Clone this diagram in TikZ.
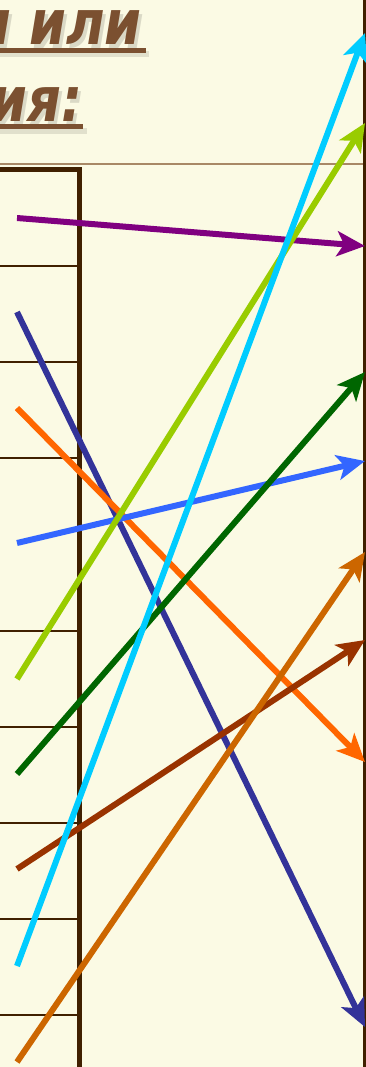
\documentclass[tikz,border=0pt]{standalone}
\usepackage{fontspec}
\setmainfont{DejaVu Sans}
\usetikzlibrary{arrows.meta}
\definecolor{bg}{HTML}{FBFAE4}
\definecolor{ttl}{HTML}{7B5030}
\definecolor{frm}{HTML}{402000}
\definecolor{thin}{HTML}{A88866}
\definecolor{cpurple}{HTML}{800080}
\definecolor{cnavy}{HTML}{333399}
\definecolor{corange}{HTML}{FF6600}
\definecolor{cblue}{HTML}{3366FF}
\definecolor{cyg}{HTML}{99CC00}
\definecolor{cdg}{HTML}{006600}
\definecolor{cbrown}{HTML}{993300}
\definecolor{ccyan}{HTML}{00CCFF}
\definecolor{cob}{HTML}{CC6600}
\newcommand{\ttlfmt}[1]{\scalebox{0.85}[1]{#1}}
\tikzset{
  ttltext/.style={inner sep=0pt, font=\fontsize{62}{72}\selectfont\bfseries\itshape},
  ttlshadow/.style={ttltext, text=black, opacity=0.13},
  ul/.style={line width=5pt, draw=ttl},
  ulshadow/.style={line width=6pt, draw=black, opacity=0.10},
  frame/.style={line width=5pt, draw=frm},
  rowline/.style={line width=2.5pt, draw=frm},
  rline/.style={line width=3pt, draw=frm},
  thinline/.style={line width=2pt, draw=thin},
  conn/.style={line width=6pt, -{Stealth[length=28pt,width=25pt,inset=7pt]}},
}
\begin{document}
\begin{tikzpicture}[x=1pt,y=-1pt]
\useasboundingbox (0,0) rectangle (366,1067);
\fill[bg] (0,0) rectangle (366,1067);
% title shadows
\node[ttlshadow, anchor=base east] (t1s) at (145,49) {\ttlfmt{ы или}};
\node[ttlshadow, anchor=base east] (t2s) at (86,126) {\ttlfmt{ния:}};
\draw[ulshadow] (0,54) -- (149,54);
\draw[ulshadow] (0,131) -- (87,131);
% title
\node[ttltext, text=ttl, anchor=base east] (t1) at (142,45) {\ttlfmt{ы или}};
\node[ttltext, text=ttl, anchor=base east] (t2) at (83,122) {\ttlfmt{ния:}};
\draw[ul] (0,50.5) -- (146,50.5);
\draw[ul] (0,127) -- (83,127);
% thin separator
\draw[thinline] (0,164) -- (363,164);
% table
\foreach \yy in {266,362,458,631,727,823,919,1015}
  \draw[rowline] (0,\yy) -- (78,\yy);
\draw[frame] (-5,170) -- (79,170) -- (79,1072);
% right line
\draw[rline] (364.5,-2) -- (364.5,1070);
% endpoints
\coordinate (s1) at (17,218);  \coordinate (e1) at (365,246);
\coordinate (s2) at (17,312);  \coordinate (e2) at (365,1027);
\coordinate (s3) at (17,408);  \coordinate (e3) at (365,762);
\coordinate (s4) at (17,543);  \coordinate (e4) at (365,461);
\coordinate (s5) at (17,679);  \coordinate (e5) at (365,123);
\coordinate (s6) at (17,774);  \coordinate (e6) at (365,372);
\coordinate (s7) at (17,869);  \coordinate (e7) at (365,640);
\coordinate (s8) at (17,966);  \coordinate (e8) at (365,33);
\coordinate (s9) at (17,1062); \coordinate (e9) at (365,552);
% connectors
\draw[conn, draw=cpurple, fill=cpurple] (s1) -- (e1);
\draw[conn, draw=cnavy, fill=cnavy] (s2) -- (e2);
\draw[conn, draw=corange, fill=corange] (s3) -- (e3);
\draw[conn, draw=cblue, fill=cblue] (s4) -- (e4);
\draw[conn, draw=cyg, fill=cyg] (s5) -- (e5);
\draw[conn, draw=cdg, fill=cdg] (s6) -- (e6);
\draw[conn, draw=cbrown, fill=cbrown] (s7) -- (e7);
\draw[conn, draw=ccyan, fill=ccyan] (s8) -- (e8);
\draw[conn, draw=cob, fill=cob] (s9) -- (e9);
\end{tikzpicture}
\end{document}
